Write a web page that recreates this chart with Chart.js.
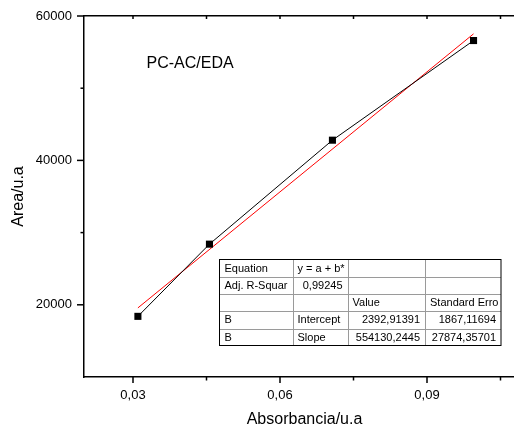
<!DOCTYPE html>
<html>
<head>
<meta charset="utf-8">
<script src="https://cdn.jsdelivr.net/npm/chart.js@4/dist/chart.umd.min.js"></script>
<style>
  html, body { margin: 0; padding: 0; overflow: hidden; background: #fff; }
  canvas { display: block; }
</style>
</head>
<body>
<canvas id="calib" width="540" height="430"></canvas>
<script>
// Calibration data: absorbance vs. peak area
const absorbance = [0.031, 0.0456, 0.0707, 0.0995];
const area = [18400, 28400, 42800, 56600];

// Linear fit parameters (y = a + b*x)
const fitIntercept = 2392.91391;
const fitSlope = 554130.2445;

// Axis ticks
const xMajorTicks = [0.03, 0.06, 0.09];
const xMinorTicks = [0.045, 0.075, 0.105];
const yMajorTicks = [20000, 40000, 60000];
const yMinorTicks = [30000, 50000];

const sampleLabel = 'PC-AC/EDA';

// Fit summary table
const tableRows = [
  ['Equation', 'y = a + b*', '', ''],
  ['Adj. R-Squar', '0,99245', '', ''],
  ['', '', 'Value', 'Standard Erro'],
  ['B', 'Intercept', '2392,91391', '1867,11694'],
  ['B', 'Slope', '554130,2445', '27874,35701']
];
const tableAlign = [
  ['left', 'left', 'left', 'left'],
  ['left', 'right', 'left', 'left'],
  ['left', 'left', 'left', 'left'],
  ['left', 'left', 'right', 'right'],
  ['left', 'left', 'right', 'right']
];

const FONT = "'Liberation Sans', Arial, Helvetica, sans-serif";

const measured = absorbance.map((x, i) => ({ x: x, y: area[i] }));
const fitEnds = [absorbance[0], absorbance[absorbance.length - 1]];
const fitLine = fitEnds.map(x => ({ x: x, y: fitIntercept + fitSlope * x }));

const decorations = {
  id: 'decorations',
  afterDraw(chart) {
    const { ctx, chartArea: a, scales } = chart;
    const x = scales.x, y = scales.y;
    ctx.save();
    ctx.strokeStyle = '#000';
    ctx.lineWidth = 1.5;
    const seg = (x1, y1, x2, y2) => {
      ctx.beginPath(); ctx.moveTo(x1, y1); ctx.lineTo(x2, y2); ctx.stroke();
    };
    // left axis ticks (outward)
    yMajorTicks.forEach(v => { const p = y.getPixelForValue(v); seg(a.left - 7, p, a.left, p); });
    yMinorTicks.forEach(v => { const p = y.getPixelForValue(v); seg(a.left - 3.5, p, a.left, p); });
    // bottom axis ticks (outward)
    xMajorTicks.forEach(v => { const p = x.getPixelForValue(v); seg(p, a.bottom, p, a.bottom + 6); });
    xMinorTicks.forEach(v => { const p = x.getPixelForValue(v); seg(p, a.bottom, p, a.bottom + 3.5); });
    // top axis ticks (inward)
    xMajorTicks.concat(xMinorTicks).forEach(v => { const p = x.getPixelForValue(v); seg(p, a.top, p, a.top + 3); });

    // sample name
    ctx.fillStyle = '#000';
    ctx.font = '16px ' + FONT;
    ctx.textAlign = 'left';
    ctx.textBaseline = 'middle';
    ctx.fillText(sampleLabel, 146.5, 64);

    // fit summary table
    const colX = [219.5, 292.5, 347.5, 425, 501];
    const top = 259.5, rowH = 17.25;
    const bottom = top + rowH * tableRows.length;
    ctx.fillStyle = '#fff';
    ctx.fillRect(colX[0], top, colX[4] - colX[0], bottom - top);
    ctx.lineWidth = 1;
    ctx.strokeStyle = '#9a9a9a';
    for (let r = 1; r < tableRows.length; r++) {
      const yy = Math.round(top + rowH * r) + 0.5;
      seg(colX[0], yy, colX[4], yy);
    }
    for (let c = 1; c < 4; c++) {
      const xx = Math.round(colX[c]) + 0.5;
      seg(xx, top, xx, bottom);
    }
    ctx.strokeStyle = '#000';
    ctx.strokeRect(colX[0], top, colX[4] - colX[0], Math.round(bottom - top));
    ctx.fillStyle = '#000';
    ctx.font = '11px ' + FONT;
    tableRows.forEach((row, r) => {
      const cy = top + rowH * r + rowH / 2 + 0.5;
      row.forEach((txt, c) => {
        if (!txt) return;
        const al = tableAlign[r][c];
        ctx.textAlign = al;
        const tx = al === 'left' ? colX[c] + 5 : colX[c + 1] - 5;
        ctx.fillText(txt, tx, cy);
      });
    });
    ctx.restore();
  }
};

new Chart(document.getElementById('calib'), {
  type: 'scatter',
  data: {
    datasets: [
      {
        data: measured,
        showLine: true,
        borderColor: '#000',
        borderWidth: 1,
        pointStyle: 'rect',
        pointRadius: 5,
        pointBackgroundColor: '#000',
        pointBorderColor: '#000',
        pointBorderWidth: 0
      },
      {
        data: fitLine,
        showLine: true,
        borderColor: '#ff0000',
        borderWidth: 1,
        pointRadius: 0
      }
    ]
  },
  options: {
    responsive: false,
    animation: false,
    events: [],
    layout: { padding: { left: 0, right: 15, top: 0, bottom: 0 } },
    plugins: { legend: { display: false }, tooltip: { enabled: false } },
    scales: {
      x: {
        type: 'linear',
        position: 'bottom',
        min: 0.02,
        max: 0.11,
        afterFit: s => { s.height = 53; },
        afterBuildTicks: s => { s.ticks = xMajorTicks.map(v => ({ value: v })); },
        ticks: {
          callback: v => v.toFixed(2).replace('.', ','),
          font: { family: FONT, size: 13 },
          color: '#000',
          padding: 4,
          maxRotation: 0,
          autoSkip: false
        },
        grid: { drawOnChartArea: false, tickLength: 7, tickColor: 'rgba(0,0,0,0)' },
        border: { color: '#000', width: 1.5 },
        title: {
          display: true,
          text: 'Absorbancia/u.a',
          font: { family: FONT, size: 16, lineHeight: 1.2 },
          color: '#000',
          padding: { top: 0, bottom: 1 }
        }
      },
      x2: {
        type: 'linear',
        position: 'top',
        min: 0.02,
        max: 0.11,
        afterFit: s => { s.height = 16; },
        ticks: { display: false },
        grid: { drawOnChartArea: false, drawTicks: false },
        border: { color: '#000', width: 1.5 }
      },
      y: {
        type: 'linear',
        position: 'left',
        min: 10000,
        max: 60000,
        afterFit: s => { s.width = 84; },
        afterBuildTicks: s => { s.ticks = yMajorTicks.map(v => ({ value: v })); },
        ticks: {
          callback: v => String(v),
          font: { family: FONT, size: 13 },
          color: '#000',
          padding: 5
        },
        grid: { drawOnChartArea: false, tickLength: 7, tickColor: 'rgba(0,0,0,0)' },
        border: { color: '#000', width: 1.5 },
        title: {
          display: true,
          text: 'Area/u.a',
          font: { family: FONT, size: 16, lineHeight: 1.2 },
          color: '#000',
          padding: { top: 9, bottom: 0 }
        }
      }
    }
  },
  plugins: [decorations]
});
</script>
</body>
</html>
